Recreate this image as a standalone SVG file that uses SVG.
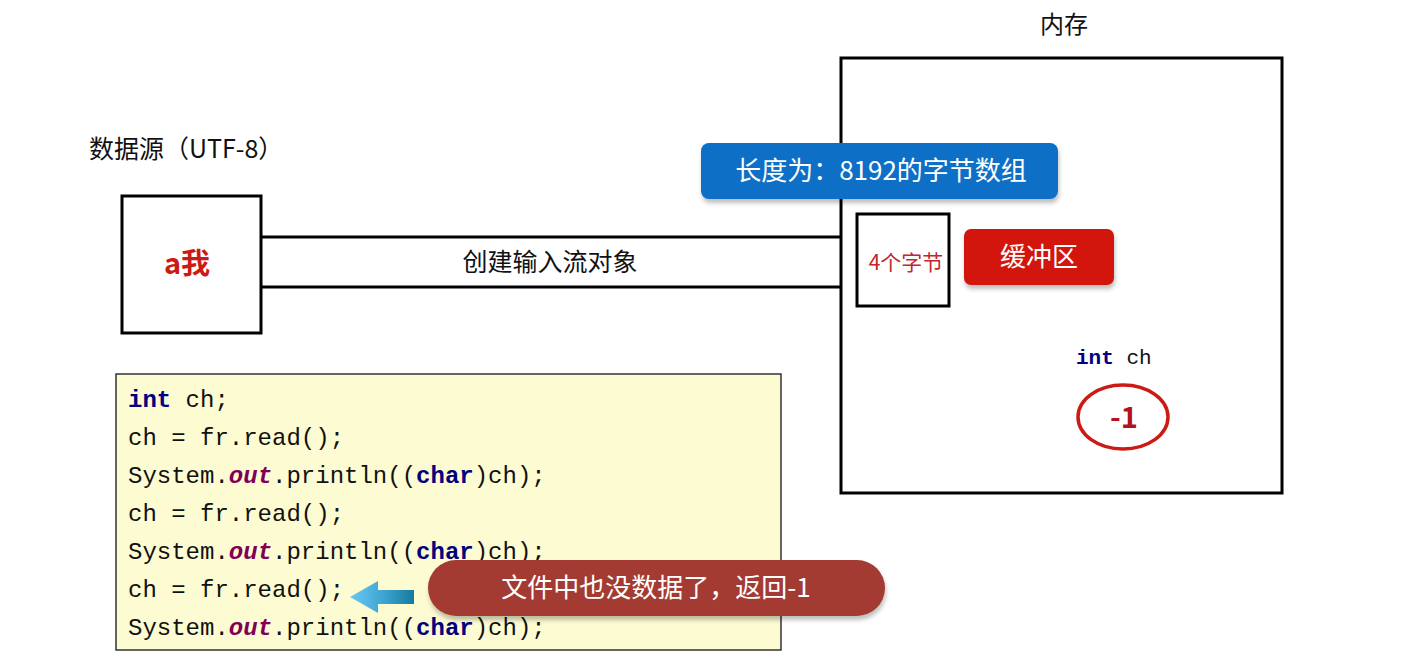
<svg xmlns="http://www.w3.org/2000/svg" width="1411" height="663" viewBox="0 0 1411 663">
  <defs>
    <style>
      .cn { font-family: "Noto Sans CJK SC", "Noto Sans", sans-serif; }
      .box { fill: #ffffff; stroke: #000000; stroke-width: 3; }
      .wire { stroke: #000000; stroke-width: 3; fill: none; }
      .code { font-family: "Liberation Mono", "DejaVu Sans Mono", monospace; font-size: 24px; fill: #111111; }
      .kw { fill: #000080; font-weight: bold; }
      .fld { fill: #7f0055; font-weight: bold; font-style: italic; }
      .label-w { fill: #ffffff; font-size: 26px; text-anchor: middle; }
    </style>
    <filter id="shadow" x="-10%" y="-20%" width="120%" height="160%">
      <feDropShadow dx="1" dy="4" stdDeviation="2" flood-color="#000000" flood-opacity="0.25"/>
    </filter>
    <linearGradient id="arrowGrad" x1="0" y1="0" x2="1" y2="0">
      <stop offset="0" stop-color="#6cc9f0"/>
      <stop offset="0.5" stop-color="#3fa6d6"/>
      <stop offset="1" stop-color="#17799c"/>
    </linearGradient>
  </defs>

  <rect width="1411" height="663" fill="#ffffff"/>

  <!-- connectors: the stream between source and memory -->
  <g id="connectors">
    <line class="wire" x1="261" y1="237" x2="841" y2="237"/>
    <line class="wire" x1="261" y1="287" x2="841" y2="287"/>
    <text class="cn" x="550" y="271" font-size="25" text-anchor="middle" fill="#111111">创建输入流对象</text>
  </g>

  <!-- data source -->
  <g id="source">
    <text class="cn" x="89" y="158" font-size="25" fill="#111111">数据源（UTF-8）</text>
    <rect class="box" x="122" y="196" width="139" height="137"/>
    <text class="cn" x="187" y="274" font-size="29" font-weight="bold" text-anchor="middle" fill="#cc1a14">a我</text>
  </g>

  <!-- memory -->
  <g id="memory">
    <text class="cn" x="1064" y="33" font-size="24" text-anchor="middle" fill="#111111">内存</text>
    <rect class="box" x="841" y="58" width="441" height="435"/>
  </g>

  <g id="byte-array">
    <rect x="701" y="143" width="357" height="56" rx="8" fill="#0b6fc6" filter="url(#shadow)"/>
    <text class="cn label-w" x="881" y="180">长度为：8192的字节数组</text>
  </g>

  <g id="four-bytes">
    <rect class="box" x="857" y="214" width="92" height="92"/>
    <text class="cn" x="906" y="270" font-size="21" text-anchor="middle" fill="#c0282d">4个字节</text>
  </g>

  <g id="buffer">
    <rect x="964" y="229" width="150" height="56" rx="7" fill="#d2170f" filter="url(#shadow)"/>
    <text class="cn label-w" x="1039" y="266">缓冲区</text>
  </g>

  <g id="int-ch">
    <text x="1076" y="364" font-family="Liberation Mono, DejaVu Sans Mono, monospace" font-size="21" fill="#111111"><tspan class="kw">int</tspan> ch</text>
    <ellipse cx="1123" cy="417" rx="45" ry="32" fill="#ffffff" stroke="#cc1a14" stroke-width="3.5"/>
    <text class="cn" x="1124" y="428" font-size="29" font-weight="bold" text-anchor="middle" fill="#b5121b">-1</text>
  </g>

  <!-- source code panel -->
  <g id="code">
    <rect x="116" y="374" width="665" height="276" fill="#fdfbd2" stroke="#333333" stroke-width="1.5"/>
    <text class="code" x="128" y="407"><tspan class="kw">int</tspan> ch;</text>
    <text class="code" x="128" y="445">ch = fr.read();</text>
    <text class="code" x="128" y="483">System.<tspan class="fld">out</tspan>.println((<tspan class="kw">char</tspan>)ch);</text>
    <text class="code" x="128" y="521">ch = fr.read();</text>
    <text class="code" x="128" y="559">System.<tspan class="fld">out</tspan>.println((<tspan class="kw">char</tspan>)ch);</text>
    <text class="code" x="128" y="597">ch = fr.read();</text>
    <text class="code" x="128" y="635">System.<tspan class="fld">out</tspan>.println((<tspan class="kw">char</tspan>)ch);</text>
  </g>

  <g id="pointer">
    <path d="M350 597 L378 581 L378 590 L414 590 L414 604 L378 604 L378 613 Z" fill="url(#arrowGrad)"/>
  </g>

  <g id="callout">
    <rect x="428" y="560" width="457" height="56" rx="28" fill="#a33a31" filter="url(#shadow)"/>
    <text class="cn label-w" x="656" y="597">文件中也没数据了，返回-1</text>
  </g>
</svg>
